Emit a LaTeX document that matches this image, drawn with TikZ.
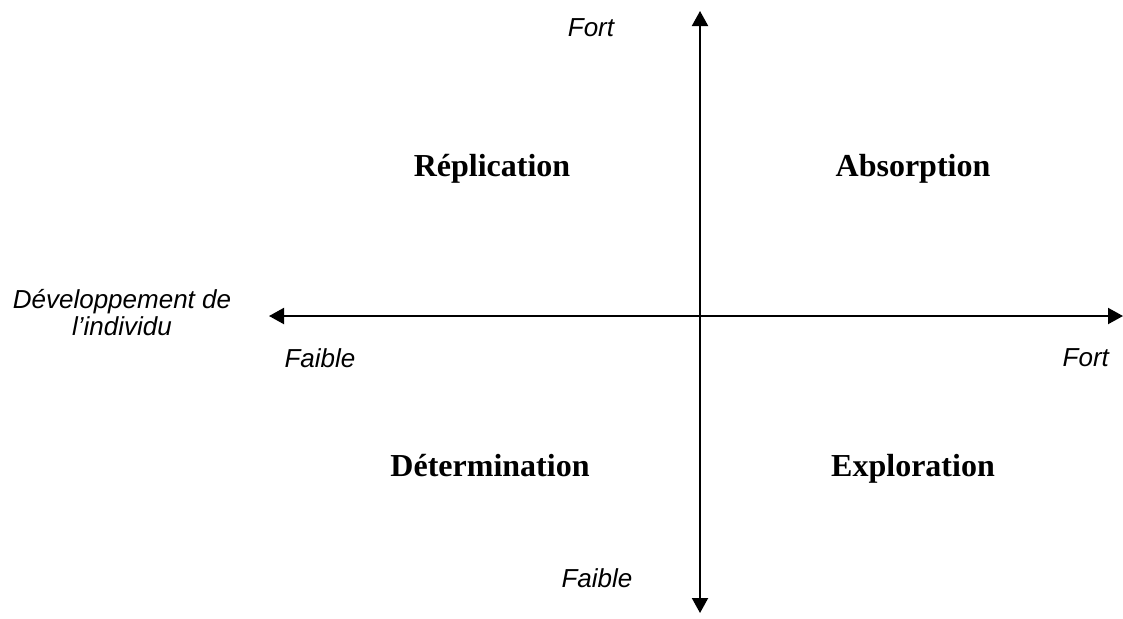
\documentclass[tikz,border=0pt]{standalone}
\usepackage{fontspec}
\setmainfont{Liberation Serif}
\setsansfont{Liberation Sans}
\usetikzlibrary{arrows.meta}

\begin{document}
\begin{tikzpicture}[x=0.5pt,y=-0.5pt,
axis/.style={line width=1pt,-{Triangle[length=7.5pt,width=8pt]}},
quad/.style={font=\fontsize{16}{19}\selectfont\bfseries,anchor=base},
lab/.style={font=\fontsize{13}{13}\selectfont\sffamily\itshape}]
\useasboundingbox (0,0) rectangle (1123,618);

% axes
\coordinate (c) at (700,316);
\coordinate (top) at (700,11);
\coordinate (bot) at (700,613);
\coordinate (left) at (269,316);
\coordinate (right) at (1123,316);
\draw[axis] (c) -- (top);
\draw[axis] (c) -- (bot);
\draw[axis] (c) -- (left);
\draw[axis] (c) -- (right);

% axis labels
\node[lab] (fortV) at (591,28) {Fort};
\node[lab] (faibleV) at (597,578) {Faible};
\node[lab] (faibleH) at (320,358) {Faible};
\node[lab,anchor=east] (fortH) at (1116,358) {Fort};
\node[lab,align=center,font=\fontsize{13}{13.5}\selectfont\sffamily\itshape] (dev) at (122,313) {Développement de\\l’individu};

% quadrants
\node[quad] (repl) at (492,176) {Réplication};
\node[quad] (abs) at (913,176) {Absorption};
\node[quad] (det) at (490,476) {Détermination};
\node[quad] (expl) at (913,476) {Exploration};
\end{tikzpicture}
\end{document}
